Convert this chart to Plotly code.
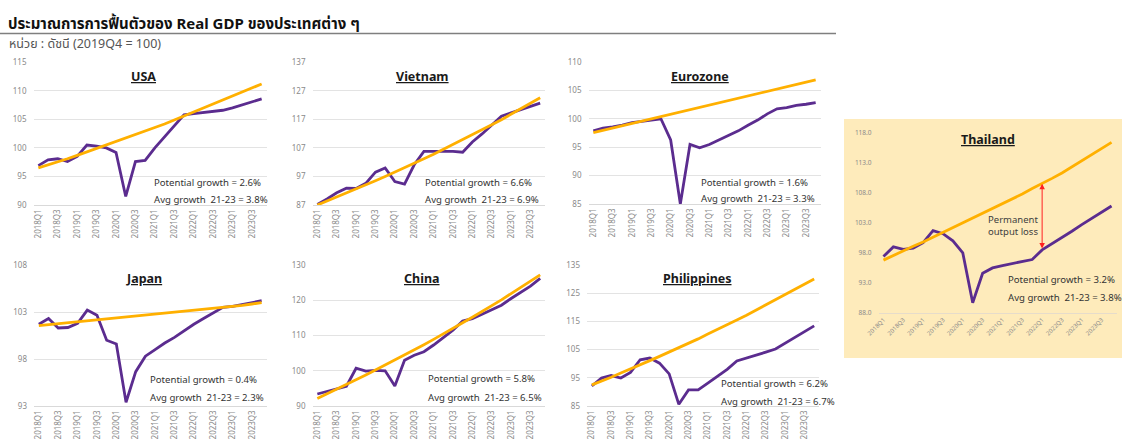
import plotly.graph_objects as go

W, H = 1127, 443

quarters = ["2018Q1", "2018Q2", "2018Q3", "2018Q4", "2019Q1", "2019Q2", "2019Q3", "2019Q4",
            "2020Q1", "2020Q2", "2020Q3", "2020Q4", "2021Q1", "2021Q2", "2021Q3", "2021Q4",
            "2022Q1", "2022Q2", "2022Q3", "2022Q4", "2023Q1", "2023Q2", "2023Q3", "2023Q4"]
tick_quarters = ["2018Q1", "2018Q3", "2019Q1", "2019Q3", "2020Q1", "2020Q3",
                 "2021Q1", "2021Q3", "2022Q1", "2022Q3", "2023Q1", "2023Q3"]

countries = ["USA", "Vietnam", "Eurozone", "Japan", "China", "Philippines", "Thailand"]

usa_actual = [96.9, 97.9, 98.1, 97.6, 98.5, 100.5, 100.3, 100.0, 99.2, 91.5, 97.6, 97.8,
              100.0, 102.0, 104.0, 105.8, 106.0, 106.2, 106.4, 106.6, 107.0, 107.5, 108.0, 108.6]
usa_potential = [96.5, 97.0, 97.6, 98.1, 98.7, 99.3, 99.9, 100.5, 101.1, 101.7, 102.3, 102.9,
                 103.5, 104.2, 104.9, 105.6, 106.3, 107.0, 107.7, 108.4, 109.1, 109.8, 110.5, 111.2]

vietnam_actual = [87.2, 89.1, 91.3, 92.9, 92.8, 94.6, 98.5, 100.0, 95.2, 94.3, 101.1, 105.8,
                  105.8, 105.8, 105.8, 105.5, 109.1, 111.9, 115.0, 118.1, 119.3, 120.4, 121.5, 122.7]
vietnam_potential = [87.0, 88.4, 89.7, 91.1, 92.5, 94.0, 95.5, 97.0, 98.5, 100.0, 101.6, 103.2,
                     104.8, 106.5, 108.1, 109.8, 111.6, 113.3, 115.1, 116.9, 118.8, 120.7, 122.6, 124.6]

eurozone_actual = [97.9, 98.4, 98.6, 98.9, 99.35, 99.6, 99.8, 100.0, 96.3, 85.0, 95.5, 94.9,
                   95.5, 96.3, 97.1, 97.9, 98.9, 99.8, 100.9, 101.8, 102.0, 102.4, 102.6, 102.9]
eurozone_potential = [97.6, 98.0, 98.4, 98.8, 99.2, 99.6, 100.0, 100.4, 100.8, 101.2, 101.6, 102.0,
                      102.4, 102.8, 103.2, 103.6, 104.0, 104.4, 104.8, 105.2, 105.6, 106.0, 106.4, 106.9]

japan_actual = [101.7, 102.3, 101.3, 101.35, 101.8, 103.2, 102.65, 100.0, 99.6, 93.4, 96.65, 98.3,
                99.0, 99.7, 100.3, 101.0, 101.7, 102.3, 102.9, 103.5, 103.6, 103.8, 104.0, 104.2]
japan_potential = [101.55, 101.65, 101.75, 101.85, 101.95, 102.05, 102.15, 102.25, 102.35, 102.45,
                   102.55, 102.65, 102.75, 102.85, 102.95, 103.05, 103.15, 103.25, 103.35, 103.45,
                   103.55, 103.7, 103.85, 104.0]

china_actual = [93.4, 94.1, 94.8, 95.6, 100.7, 99.9, 100.1, 100.0, 95.7, 103.0, 104.4, 105.4,
                107.3, 109.5, 111.5, 114.1, 114.8, 116.0, 117.2, 118.6, 120.5, 122.2, 124.0, 126.2]
china_potential = [92.1, 93.4, 94.7, 96.0, 97.4, 98.8, 100.2, 101.6, 103.0, 104.4, 105.9, 107.4,
                   108.9, 110.4, 112.0, 113.6, 115.2, 116.8, 118.5, 120.1, 121.9, 123.6, 125.4, 127.2]

philippines_actual = [92.1, 94.9, 95.8, 94.9, 96.9, 101.4, 102.0, 100.2, 96.4, 85.6, 90.7, 90.7,
                      93.1, 95.4, 98.0, 101.0, 102.0, 102.9, 104.1, 105.2, 107.2, 109.3, 111.4, 113.4]
philippines_potential = [92.5, 93.8, 95.2, 96.7, 98.1, 99.6, 101.1, 102.6, 104.1, 105.7, 107.2, 108.8,
                         110.5, 112.1, 113.8, 115.5, 117.2, 119.0, 120.8, 122.6, 124.4, 126.3, 128.1, 130.0]

thailand_actual = [97.4, 99.0, 98.6, 98.8, 99.7, 101.7, 101.2, 100.0, 98.0, 89.7, 94.6, 95.5,
                   95.9, 96.2, 96.5, 96.9, 98.5, 99.5, 100.6, 101.6, 102.7, 103.7, 104.8, 105.8]
thailand_potential = [96.8, 97.6, 98.3, 99.1, 99.8, 100.6, 101.3, 102.1, 102.9, 103.7, 104.5, 105.3,
                      106.1, 107.0, 107.8, 108.7, 109.5, 110.4, 111.3, 112.3, 113.3, 114.3, 115.3, 116.4]

potential_growth = ["2.6%", "6.6%", "1.6%", "0.4%", "5.8%", "6.2%", "3.2%"]
avg_growth = ["3.8%", "6.9%", "3.3%", "2.3%", "6.5%", "6.7%", "3.8%"]

y_ranges = [(90, 115, 5), (87, 137, 10), (85, 110, 5), (93, 108, 5), (90, 130, 10), (85, 135, 10), (88, 118, 5)]

actuals = [usa_actual, vietnam_actual, eurozone_actual, japan_actual, china_actual, philippines_actual, thailand_actual]
potentials = [usa_potential, vietnam_potential, eurozone_potential, japan_potential, china_potential,
              philippines_potential, thailand_potential]

title_text = "ประมาณการการฟื้นตัวของ Real GDP ของประเทศต่าง ๆ"
unit_text = "หน่วย : ดัชนี (2019Q4 = 100)"
loss_text = "Permanent<br>output loss"
arrow_quarter = "2022Q1"

# ---------------- layout geometry (pixels) ----------------
# x0, x1, ytop, ybottom, title center (x,y), note left x, note y1, note y2
geom = [
    (33.5, 266.5, 62.3, 205.0, 143, 77, 152, 182, 199),
    (312.5, 545.0, 62.3, 205.0, 422, 77, 423, 182, 199),
    (588.5, 820.5, 62.3, 204.0, 700, 77, 699, 182, 198),
    (34.0, 266.5, 265.0, 406.0, 144, 278, 148, 379, 397),
    (312.5, 545.0, 265.0, 406.0, 422, 278, 426, 378, 397),
    (587.0, 819.0, 265.0, 406.0, 697, 278, 719, 383, 401),
    (878.5, 1116.5, 132.7, 313.0, 988, 139, 1006, 279, 297),
]

PURPLE = "#5B2C8F"
ORANGE = "#FFB000"
FONT = "Noto Sans, Noto Sans Thai, Tahoma, sans-serif"
TICK_COLOR = "#8a8a8a"

fig = go.Figure()
layout = {}
annotations = []

for k in range(7):
    sfx = "" if k == 0 else str(k + 1)
    x0, x1, yt, yb, tcx, tcy, nx, ny1, ny2 = geom[k]
    lo, hi, step = y_ranges[k]
    thai = (k == 6)
    fig.add_trace(go.Scatter(x=quarters, y=actuals[k], mode="lines", xaxis="x" + sfx, yaxis="y" + sfx,
                             line=dict(color=PURPLE, width=2.8), showlegend=False, hoverinfo="skip"))
    fig.add_trace(go.Scatter(x=quarters, y=potentials[k], mode="lines", xaxis="x" + sfx, yaxis="y" + sfx,
                             line=dict(color=ORANGE, width=2.8), showlegend=False, hoverinfo="skip"))
    layout["xaxis" + sfx] = dict(
        domain=[x0 / W, x1 / W], anchor="y" + sfx, type="category", automargin=False,
        categoryorder="array", categoryarray=quarters,
        range=[-0.5, 23.5], tickmode="array", tickvals=tick_quarters,
        tickangle=-45 if thai else -90, showgrid=False, zeroline=False,
        showline=True, linecolor="#e6dccb" if thai else "#d9d9d9", linewidth=1.2,
        ticks="", tickfont=dict(size=6 if thai else 8, color=TICK_COLOR, family=FONT),
        fixedrange=True,
    )
    layout["yaxis" + sfx] = dict(
        domain=[1 - yb / H, 1 - yt / H], anchor="x" + sfx, automargin=False,
        range=[lo, hi], tick0=lo, dtick=step, tickmode="linear",
        tickformat=".1f" if thai else "d",
        showgrid=not thai, gridcolor="#e3e3e3", gridwidth=1, zeroline=False, showline=False,
        ticks="", ticklabelstandoff=6, tickfont=dict(size=6.5 if thai else 8, color=TICK_COLOR, family=FONT),
        fixedrange=True,
    )
    annotations.append(dict(
        xref="paper", yref="paper", x=tcx / W, y=1 - tcy / H, xanchor="center", yanchor="middle",
        text="<b><span style='text-decoration:underline'>" + countries[k] + "</span></b>",
        showarrow=False, font=dict(size=12.5, color="#1a1a1a", family=FONT)))
    annotations.append(dict(
        xref="paper", yref="paper", x=nx / W, y=1 - ny1 / H, xanchor="left", yanchor="middle",
        text="Potential growth = " + potential_growth[k], showarrow=False,
        font=dict(size=9.6, color="#333333", family=FONT)))
    annotations.append(dict(
        xref="paper", yref="paper", x=nx / W, y=1 - ny2 / H, xanchor="left", yanchor="middle",
        text="Avg growth  21-23 = " + avg_growth[k], showarrow=False,
        font=dict(size=9.6, color="#333333", family=FONT)))

ai = quarters.index(arrow_quarter)
annotations.append(dict(
    xref="x7", yref="y7", axref="x7", ayref="y7",
    x=arrow_quarter, y=thailand_potential[ai], ax=arrow_quarter, ay=thailand_actual[ai],
    text="", showarrow=True, arrowside="end+start", arrowhead=2, arrowsize=1.1,
    arrowwidth=1, arrowcolor="#ff2020", standoff=0, startstandoff=0))
annotations.append(dict(
    xref="paper", yref="paper", x=1013 / W, y=1 - 225 / H, xanchor="center", yanchor="middle",
    text=loss_text, showarrow=False, align="center",
    font=dict(size=9.5, color="#404040", family=FONT)))

annotations.append(dict(
    xref="paper", yref="paper", x=6 / W, y=1 - 23 / H, xanchor="left", yanchor="middle",
    text="<b>" + title_text + "</b>", showarrow=False,
    font=dict(size=15, color="#111111", family=FONT)))
annotations.append(dict(
    xref="paper", yref="paper", x=7 / W, y=1 - 44 / H, xanchor="left", yanchor="middle",
    text=unit_text, showarrow=False,
    font=dict(size=12.5, color="#555555", family=FONT)))

shapes = [
    dict(type="rect", xref="paper", yref="paper", x0=844 / W, x1=1122 / W, y0=1 - 358 / H, y1=1 - 119 / H,
         fillcolor="#FEEBBB", line=dict(width=0), layer="below"),
    dict(type="line", xref="paper", yref="paper", x0=0, x1=836 / W, y0=1 - 33.5 / H, y1=1 - 33.5 / H,
         line=dict(color="#7f7f7f", width=1.6)),
]

fig.update_layout(
    width=W, height=H, margin=dict(l=0, r=0, t=0, b=0, autoexpand=False),
    paper_bgcolor="white", plot_bgcolor="rgba(0,0,0,0)",
    annotations=annotations, shapes=shapes, showlegend=False,
    font=dict(family=FONT), **layout,
)

fig.write_html("out.html", config={"displayModeBar": False},
               post_script="document.body.style.margin='0px';document.body.style.overflow='hidden';")
